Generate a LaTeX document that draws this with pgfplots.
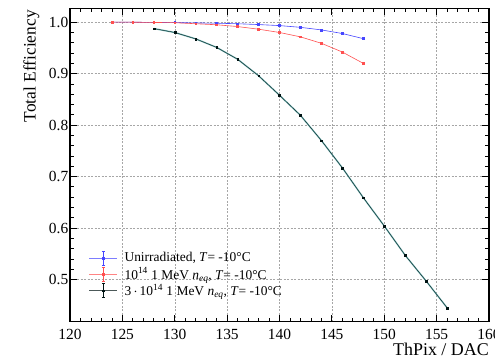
\documentclass[border=0pt]{standalone}
\usepackage{pgfplots}
\pgfplotsset{compat=1.18}
\usepackage{fontspec}
\setmainfont{Liberation Serif}
\definecolor{cblue}{RGB}{70,70,255}
\definecolor{cred}{RGB}{255,80,80}
\definecolor{cteal}{RGB}{110,175,175}
\begin{document}
\begin{tikzpicture}
\useasboundingbox (-70bp,-39.3bp) rectangle (425bp,321.7bp);
\begin{axis}[
  at={(0,0)}, anchor=south west,
  width=419bp, height=313.4bp, scale only axis,
  xmin=120, xmax=160, ymin=0.418, ymax=1.027,
  xtick={120,125,...,160},
  ytick={0.5,0.6,0.7,0.8,0.9,1.0},
  minor x tick num=4, minor y tick num=4,
  tick align=inside,
  major tick length=7bp, minor tick length=4bp,
  every tick/.style={black, line width=0.8bp},
  grid=major,
  grid style={dash pattern=on 2bp off 1.5bp, black!35, line width=0.5bp},
  axis line style={line width=1.2bp},
  /pgf/number format/assume math mode=true,
  yticklabel style={/pgf/number format/fixed, /pgf/number format/precision=1, /pgf/number format/fixed zerofill, inner sep=1.5bp},
  xticklabel style={inner sep=0pt, yshift=-7bp},
  ticklabel style={font=\fontsize{15.5}{16}\selectfont},
  xlabel={ThPix / DAC},
  xlabel style={at={(axis description cs:1,-0.068)}, anchor=north east, inner sep=0pt, font=\fontsize{18}{20}\selectfont},
  ylabel={Total Efficiency},
  ylabel style={at={(axis description cs:-0.0919,0.9946)}, anchor=east, inner sep=0pt, font=\fontsize{17.5}{20}\selectfont},
  legend cell align=left,
  legend style={at={(axis description cs:0.045,0.151)}, anchor=west, draw=none, fill=none, inner sep=0pt,
    font=\fontsize{13.5}{15}\selectfont, row sep=1.5bp,
    nodes={inner sep=1bp}},
  legend image code/.code={
    \draw[#1, mark=none, line width=0.4bp, opacity=0.7] (0bp,0bp) -- (28bp,0bp);
    \draw[#1, mark=none, line width=0.6bp] (14bp,-7bp) -- (14bp,7bp) (12.5bp,-7bp) -- (15.5bp,-7bp) (12.5bp,7bp) -- (15.5bp,7bp);
    \draw[#1, only marks] plot coordinates {(14bp,0bp)};
    \path (34bp,0bp);
  },
]
\addplot[cteal, line width=1.4bp, forget plot] coordinates {
(128,0.9876) (130,0.980) (132,0.9676) (134,0.951) (136,0.928) (138,0.896) (140,0.858)
(142,0.819) (144,0.770) (146,0.717) (148,0.659) (150,0.604) (152,0.547) (154,0.497) (156,0.445)};
\addplot[cblue, line width=0.6bp, mark=square*, mark size=0.9bp] coordinates {
(124,1.0) (126,1.0) (128,0.9995) (130,0.9992) (132,0.9986) (134,0.998) (136,0.997) (138,0.9954)
(140,0.9934) (142,0.990) (144,0.985) (146,0.978) (148,0.968)};
\addlegendentry{Unirradiated, \textit{T}= -10\textdegree C}
\addplot[cred, line width=0.6bp, mark=square*, mark size=0.9bp] coordinates {
(124,1.0) (126,1.0) (128,0.9995) (130,0.999) (132,0.997) (134,0.995) (136,0.9915) (138,0.9864)
(140,0.980) (142,0.9715) (144,0.959) (146,0.942) (148,0.920)};
\addlegendentry{10\textsuperscript{14} 1 MeV \textit{n\textsubscript{eq}}, \textit{T}= -10\textdegree C}
\addplot[black!85!teal, line width=0.3bp, mark=square*, mark size=0.9bp] coordinates {
(128,0.9876) (130,0.980) (132,0.9676) (134,0.951) (136,0.928) (138,0.896) (140,0.858)
(142,0.819) (144,0.770) (146,0.717) (148,0.659) (150,0.604) (152,0.547) (154,0.497) (156,0.445)};
\addlegendentry{3\,$\cdot$\,10\textsuperscript{14} 1 MeV \textit{n\textsubscript{eq}}, \textit{T}= -10\textdegree C}
\end{axis}
\end{tikzpicture}
\end{document}
